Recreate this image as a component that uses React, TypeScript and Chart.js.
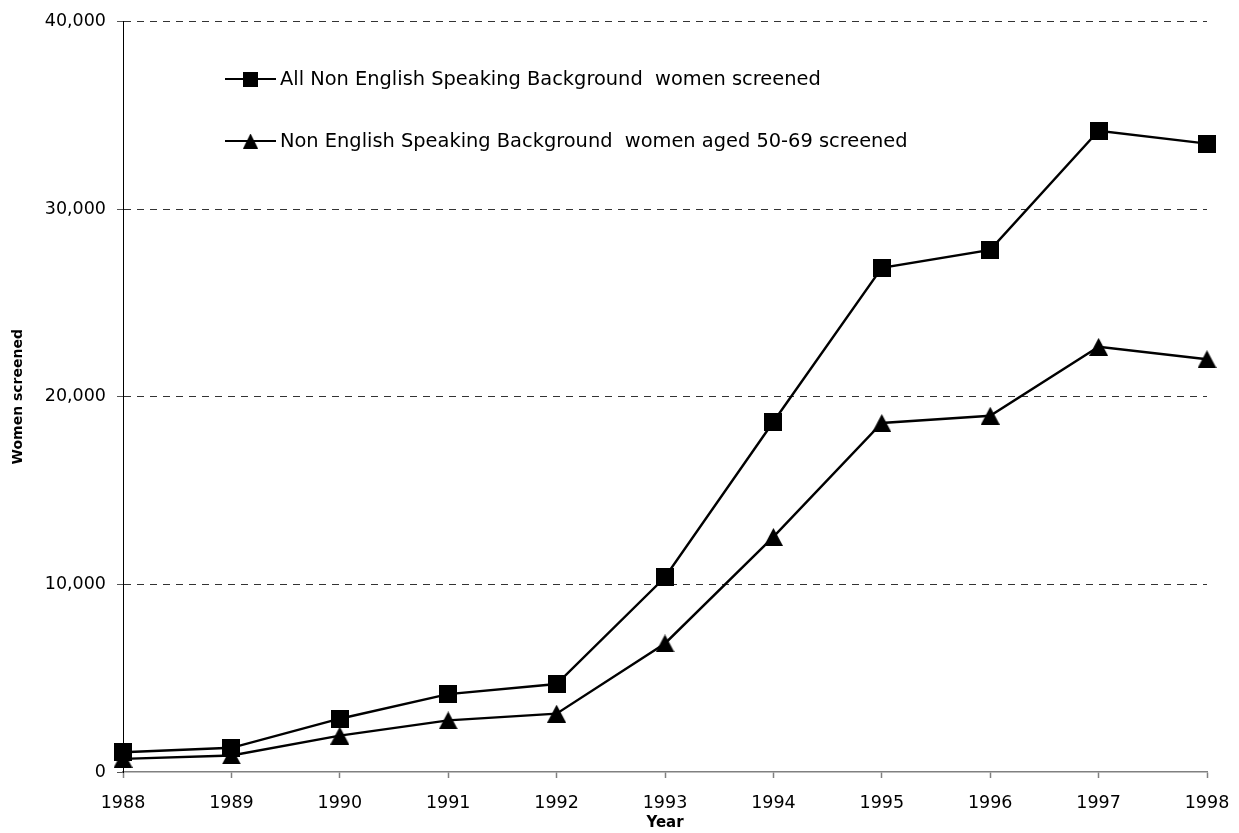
import React, { useEffect, useRef } from 'react';
import { Chart, registerables } from 'chart.js';

Chart.register(...registerables);

const years = ['1988', '1989', '1990', '1991', '1992', '1993', '1994', '1995', '1996', '1997', '1998'];
const allNesbScreened = [1050, 1290, 2840, 4150, 4690, 10380, 18670, 26870, 27830, 34180, 33490];
const nesbAged5069Screened = [700, 880, 1940, 2750, 3110, 6850, 12530, 18600, 18990, 22660, 22000];
const yTickValues = [0, 10000, 20000, 30000, 40000];
const seriesLabels = [
  'All Non English Speaking Background  women screened',
  'Non English Speaking Background  women aged 50-69 screened',
];
const yAxisTitle = 'Women screened';
const xAxisTitle = 'Year';

const FONT = '"DejaVu Sans", sans-serif';

function makeSquare(size: number): HTMLCanvasElement {
  const c = document.createElement('canvas');
  c.width = size;
  c.height = size;
  const g = c.getContext('2d')!;
  g.fillStyle = '#000';
  g.fillRect(0, 0, size, size);
  return c;
}

function makeTriangle(w: number, h: number): HTMLCanvasElement {
  const c = document.createElement('canvas');
  c.width = w;
  c.height = h;
  const g = c.getContext('2d')!;
  g.fillStyle = '#000';
  g.beginPath();
  g.moveTo(w / 2, 0);
  g.lineTo(w, h);
  g.lineTo(0, h);
  g.closePath();
  g.fill();
  return c;
}

export default function App() {
  const canvasRef = useRef<HTMLCanvasElement | null>(null);

  useEffect(() => {
    document.body.style.margin = '0';
    const canvas = canvasRef.current;
    if (!canvas) return;

    const square = makeSquare(18);
    const triangle = makeTriangle(19, 18);
    const markers = [square, triangle];

    const legendPlugin = {
      id: 'customLegend',
      afterDraw(chart: any) {
        const ctx = chart.ctx as CanvasRenderingContext2D;
        const rows = [79, 141];
        ctx.save();
        rows.forEach((y, i) => {
          ctx.strokeStyle = '#000';
          ctx.lineWidth = 2;
          ctx.beginPath();
          ctx.moveTo(225, y);
          ctx.lineTo(276, y);
          ctx.stroke();
          const m = markers[i];
          const s = 15;
          ctx.drawImage(m, 250.5 - s / 2, y - s / 2, s, s);
          ctx.fillStyle = '#000';
          ctx.font = `19.4px ${FONT}`;
          ctx.textBaseline = 'middle';
          ctx.textAlign = 'left';
          ctx.fillText(seriesLabels[i], 280, y + 1);
        });
        ctx.restore();
      },
    };

    const chart = new Chart(canvas, {
      type: 'line',
      data: {
        labels: years,
        datasets: [
          {
            label: seriesLabels[0],
            data: allNesbScreened,
            borderColor: '#000',
            backgroundColor: '#000',
            borderWidth: 2.4,
            tension: 0,
            pointStyle: square as any,
            pointRadius: 9,
            clip: false as any,
          },
          {
            label: seriesLabels[1],
            data: nesbAged5069Screened,
            borderColor: '#000',
            backgroundColor: '#000',
            borderWidth: 2.4,
            tension: 0,
            pointStyle: triangle as any,
            pointRadius: 9,
            clip: false as any,
          },
        ],
      },
      options: {
        animation: false,
        responsive: true,
        maintainAspectRatio: false,
        layout: { padding: { top: 19, right: 32, left: 0, bottom: 0 } },
        plugins: {
          legend: { display: false },
          tooltip: { enabled: false },
        },
        scales: {
          x: {
            type: 'category',
            offset: false,
            afterFit(scale: any) {
              scale.height = 61;
            },
            grid: {
              drawOnChartArea: false,
              drawTicks: true,
              tickLength: 6,
              tickColor: '#808080',
              tickWidth: 1.5,
            },
            border: { display: true, color: '#808080', width: 1.5 },
            ticks: {
              color: '#000',
              font: { family: FONT, size: 17.5, lineHeight: 51 / 17.5 },
              padding: 0,
              maxRotation: 0,
              autoSkip: false,
            },
            title: {
              display: true,
              text: xAxisTitle,
              color: '#000',
              font: { family: FONT, size: 15, weight: 'bold' },
              padding: { top: 0, bottom: 1 },
            },
          },
          y: {
            type: 'linear',
            min: 0,
            max: 40000,
            afterFit(scale: any) {
              scale.width = 123;
            },
            afterBuildTicks(scale: any) {
              scale.ticks = yTickValues.map((v) => ({ value: v }));
            },
            grid: {
              color: (c: any) => (c.tick && c.tick.value === 0 ? 'rgba(0,0,0,0)' : '#333'),
              lineWidth: 1,
              drawTicks: true,
              tickLength: 6,
              tickColor: '#555',
              tickWidth: 1,
            },
            border: { display: true, color: '#000', width: 1, dash: [7, 6] },
            ticks: {
              color: '#000',
              font: { family: FONT, size: 17.5 },
              padding: 11,
              callback: (v: any) => Number(v).toLocaleString('en-US'),
            },
            title: {
              display: true,
              text: yAxisTitle,
              color: '#000',
              font: { family: FONT, size: 14, weight: 'bold' },
              padding: { top: 9.6, bottom: 0 },
            },
          },
        },
      },
      plugins: [legendPlugin],
    });

    return () => chart.destroy();
  }, []);

  return (
    <div style={{ position: 'absolute', left: 0, top: 0, width: 1239, height: 833 }}>
      <canvas ref={canvasRef} />
    </div>
  );
}
